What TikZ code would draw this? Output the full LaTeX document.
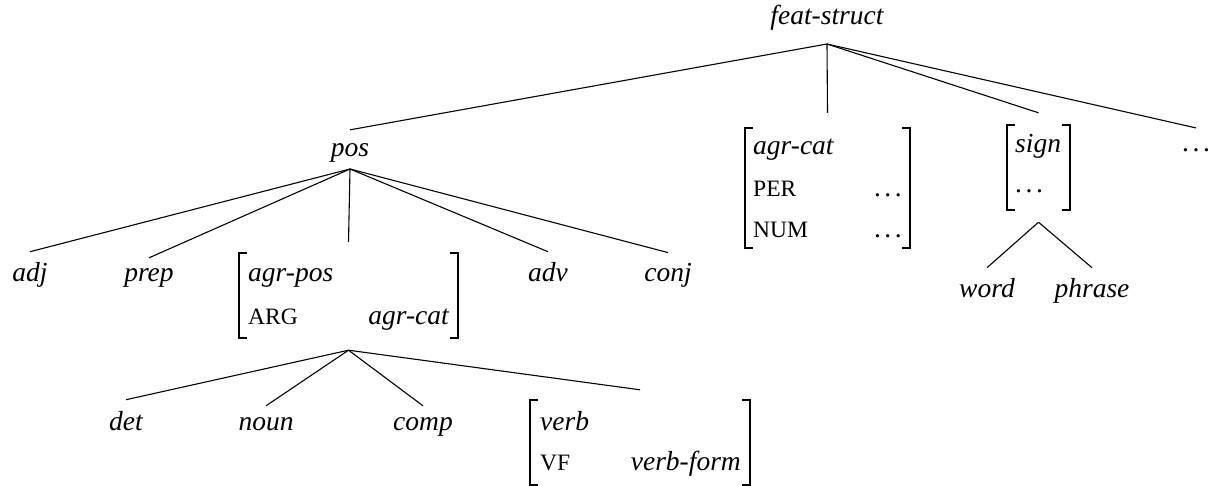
\documentclass[tikz,border=0pt]{standalone}
\usepackage{fontspec}
\setmainfont{Liberation Serif}
\newcommand\treefont{\fontsize{27.5}{33}\selectfont\itshape}
\newcommand\featfont{\fontsize{23.5}{28}\selectfont\upshape}
\newcommand\valfont{\fontsize{27.5}{33}\selectfont\upshape}
\newcommand\wdots{.\kern.13em.\kern.13em.}
\newcommand\avmbrackets[1]{%
  \draw[brk] ([xshift=8pt]#1.north west) -- (#1.north west) -- (#1.south west) -- ([xshift=8pt]#1.south west);
  \draw[brk] ([xshift=-8pt]#1.north east) -- (#1.north east) -- (#1.south east) -- ([xshift=-8pt]#1.south east);}
\tikzset{
  lbl/.style={inner sep=0pt, anchor=base, font=\treefont},
  tl/.style={inner sep=0pt, anchor=base west, font=\treefont},
  tr/.style={inner sep=0pt, anchor=base east, font=\treefont},
  feat/.style={inner sep=0pt, anchor=base west, font=\featfont},
  dotsr/.style={inner sep=0pt, anchor=base east, font=\valfont},
  dotsl/.style={inner sep=0pt, anchor=base west, font=\valfont},
  avmbox/.style={inner sep=0pt, rectangle},
  edge/.style={line width=1.1pt},
  brk/.style={line width=1.6pt},
}
\begin{document}
\begin{tikzpicture}[x=1pt,y=-1pt]
\useasboundingbox (0,0) rectangle (1213,486);

% ---- text nodes of the tree
\node[lbl] (fs) at (827,25) {feat-struct};
\node[lbl] (pos) at (350,157) {pos};
\node[inner sep=0pt, anchor=base, font=\valfont] (topdots) at (1196,152) {\wdots};
\node[lbl] (adj) at (30,282) {adj};
\node[lbl] (prep) at (149,282) {prep};
\node[lbl] (adv) at (548,282) {adv};
\node[lbl] (conj) at (668,282) {conj};
\node[lbl] (det) at (126,430) {det};
\node[lbl] (noun) at (266,430) {noun};
\node[lbl] (comp) at (423,430) {comp};
\node[lbl] (word) at (987,298) {word};
\node[lbl] (phrase) at (1092,298) {phrase};

% ---- AVM boxes
\node[avmbox, minimum width=165pt, minimum height=120pt] (agrcat) at (827.5,188) {};
\avmbrackets{agrcat}
\node[tl] (agrcat-t) at (753,155) {agr-cat};
\node[feat] (agrcat-per) at (753,197) {PER};
\node[feat] (agrcat-num) at (753,238) {NUM};
\node[dotsr] (agrcat-pv) at (902,197) {\wdots};
\node[dotsr] (agrcat-nv) at (902,238) {\wdots};

\node[avmbox, minimum width=219pt, minimum height=85pt] (agrpos) at (348.5,295.5) {};
\avmbrackets{agrpos}
\node[tl] (agrpos-t) at (248,282) {agr-pos};
\node[feat] (agrpos-arg) at (248,325) {ARG};
\node[tr] (agrpos-v) at (449,325) {agr-cat};

\node[avmbox, minimum width=220pt, minimum height=85pt] (verb) at (640,442.5) {};
\avmbrackets{verb}
\node[tl] (verb-t) at (540,430) {verb};
\node[feat] (verb-vf) at (540,470) {VF};
\node[tr] (verb-v) at (741,470) {verb-form};

\node[avmbox, minimum width=63pt, minimum height=85pt] (sign) at (1038.5,167.5) {};
\avmbrackets{sign}
\node[tl] (sign-t) at (1015,153) {sign};
\node[dotsl] (sign-v) at (1015,193) {\wdots};

% ---- connectors
\draw[edge] ([yshift=-19pt]fs.base) -- ([yshift=14pt]pos.north);
\draw[edge] ([yshift=-19pt]fs.base) -- ([yshift=15pt]agrcat.north);
\draw[edge] ([yshift=-19pt]fs.base) -- ([yshift=12pt]sign.north);
\draw[edge] ([yshift=-19pt]fs.base) -- ([yshift=21pt]topdots.north);

\draw[edge] ([yshift=-12pt]pos.base) -- ([yshift=11pt]adj.north);
\draw[edge] ([yshift=-12pt]pos.base) -- ([yshift=11pt]prep.north);
\draw[edge] ([yshift=-12pt]pos.base) -- ([yshift=11pt]agrpos.north);
\draw[edge] ([yshift=-12pt]pos.base) -- ([yshift=11pt]adv.north);
\draw[edge] ([yshift=-12pt]pos.base) -- ([yshift=11pt]conj.north);

\draw[edge] ([yshift=-12pt]agrpos.south) -- ([yshift=11pt]det.north);
\draw[edge] ([yshift=-12pt]agrpos.south) -- ([yshift=11pt]noun.north);
\draw[edge] ([yshift=-12pt]agrpos.south) -- ([yshift=11pt]comp.north);
\draw[edge] ([yshift=-12pt]agrpos.south) -- ([yshift=10pt]verb.north);

\draw[edge] ([yshift=-12pt]sign.south) -- ([yshift=11pt]word.north);
\draw[edge] ([yshift=-12pt]sign.south) -- ([yshift=11pt]phrase.north);
\end{tikzpicture}
\end{document}
